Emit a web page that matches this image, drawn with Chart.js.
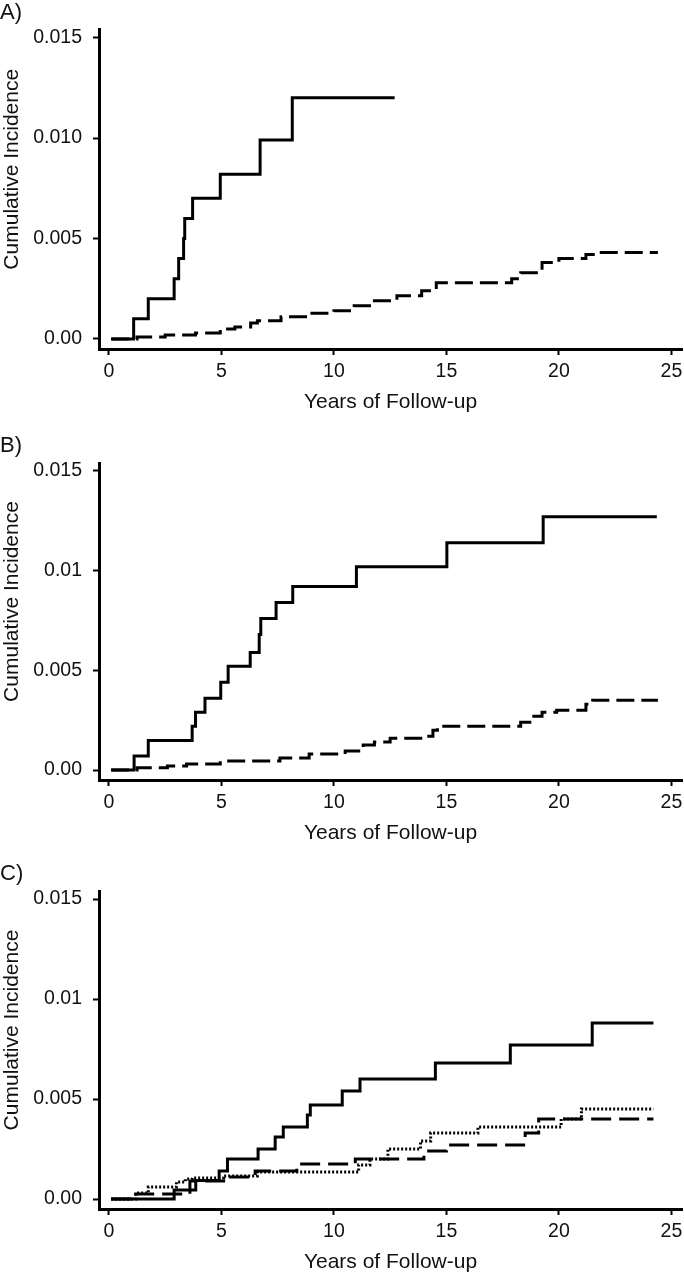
<!DOCTYPE html>
<html>
<head>
<meta charset="utf-8">
<script src="https://cdn.jsdelivr.net/npm/chart.js@4.4.1/dist/chart.umd.min.js"></script>
<style>
  body { margin: 0; background: #fff; width: 684px; height: 1280px; position: relative; overflow: hidden; }
  .panel { position: absolute; left: 0; width: 684px; height: 420px; }
</style>
</head>
<body>
<div class="panel" style="top:0"><canvas id="chartA" width="684" height="420"></canvas></div>
<div class="panel" style="top:431px"><canvas id="chartB" width="684" height="420"></canvas></div>
<div class="panel" style="top:860px"><canvas id="chartC" width="684" height="420"></canvas></div>
<script>
const xTicks = [0, 5, 10, 15, 20, 25];
const yTicks = [0, 0.005, 0.01, 0.015];
const yLabelsA = ['0.00', '0.005', '0.010', '0.015'];
const yLabelsBC = ['0.00', '0.005', '0.01', '0.015'];

// A) step times (years) and cumulative incidence
const aSolidT = [0.1, 1.1, 1.75, 2.9, 3.1, 3.32, 3.37, 3.72, 4.95, 6.72, 8.15, 12.7];
const aSolidV = [0, 0.001, 0.002, 0.003, 0.004, 0.005, 0.006, 0.007, 0.0082, 0.0099, 0.012, 0.012];
const aDashT = [0.1, 1.25, 2.5, 3.85, 4.95, 5.6, 6.3, 6.6, 7.65, 8.9, 10.0, 10.9, 11.8, 12.8, 13.9, 14.55, 17.9, 18.3, 19.25, 20.0, 21.2, 21.6, 24.4];
const aDashV = [0, 0.0001, 0.0002, 0.0003, 0.0005, 0.0006, 0.0008, 0.0009, 0.0011, 0.00128, 0.0014, 0.00165, 0.0019, 0.00215, 0.0024, 0.0028, 0.003, 0.0033, 0.0038, 0.004, 0.0042, 0.0043, 0.0043];

// B)
const bSolidT = [0.1, 1.12, 1.75, 3.7, 3.85, 4.27, 4.97, 5.3, 6.28, 6.68, 6.75, 7.43, 8.17, 11.0, 15.02, 19.3, 24.35];
const bSolidV = [0, 0.0007, 0.00148, 0.0022, 0.0029, 0.0036, 0.0044, 0.0052, 0.0059, 0.0068, 0.0076, 0.0084, 0.0092, 0.0102, 0.0114, 0.0127, 0.0127];
const bDashT = [0.1, 1.25, 2.6, 3.45, 4.95, 7.6, 8.9, 10.5, 11.3, 11.8, 12.5, 14.0, 14.4, 14.6, 18.3, 18.8, 19.25, 19.9, 21.2, 21.5, 24.4];
const bDashV = [0, 0.00012, 0.0002, 0.0003, 0.00045, 0.0006, 0.0008, 0.00095, 0.00125, 0.0014, 0.0016, 0.0017, 0.002, 0.0022, 0.0024, 0.0027, 0.0029, 0.003, 0.0033, 0.0035, 0.0035];

// C)
const cSolidT = [0.1, 2.9, 3.86, 4.9, 5.27, 6.63, 7.39, 7.75, 8.82, 8.95, 10.37, 11.16, 14.51, 17.84, 21.48, 24.2];
const cSolidV = [0, 0.00045, 0.00092, 0.0014, 0.002, 0.0025, 0.0031, 0.0036, 0.0042, 0.0047, 0.0054, 0.006, 0.0068, 0.0077, 0.0088, 0.0088];
const cDashT = [0.1, 1.1, 3.6, 5.1, 6.5, 8.35, 10.95, 14.0, 15.0, 18.5, 19.1, 24.2];
const cDashV = [0, 0.00025, 0.0009, 0.0011, 0.0014, 0.00175, 0.002, 0.0024, 0.0027, 0.0033, 0.004, 0.004];
const cDotT = [0.1, 1.2, 1.75, 3.0, 3.4, 3.7, 5.1, 6.6, 11.1, 11.6, 12.4, 13.85, 14.3, 16.4, 20.1, 21.0, 24.2];
const cDotV = [0, 0.0003, 0.0006, 0.00085, 0.001, 0.00105, 0.00115, 0.00135, 0.0017, 0.002, 0.0025, 0.0029, 0.0033, 0.0036, 0.004, 0.0045, 0.0045];

const family = '"Liberation Sans", Arial, Helvetica, sans-serif';
const ink = '#111';

const solid = [];
const dashed = [18, 7];
const dotted = [2, 2];

function steps(t, v) {
  return t.map((x, i) => ({ x, y: v[i] }));
}

function line(t, v, dash, width) {
  return {
    data: steps(t, v),
    showLine: true,
    stepped: 'before',
    borderColor: '#000',
    borderWidth: width,
    borderDash: dash,
    borderCapStyle: 'butt',
    pointRadius: 0,
  };
}

// rotated y title, sits a bit above the axis centre like the original
const yTitle = {
  id: 'yTitle',
  afterDraw(chart) {
    const { ctx, chartArea } = chart;
    ctx.save();
    ctx.translate(12, (chartArea.top + chartArea.bottom) / 2 - 20);
    ctx.rotate(-Math.PI / 2);
    ctx.font = '21px ' + family;
    ctx.fillStyle = ink;
    ctx.textAlign = 'center';
    ctx.textBaseline = 'middle';
    ctx.fillText('Cumulative Incidence', 0, 0);
    ctx.restore();
  },
};

function panel(id, label, yLabels, datasets, padTop) {
  new Chart(document.getElementById(id), {
    type: 'scatter',
    data: { datasets },
    plugins: [yTitle],
    options: {
      responsive: false,
      animation: false,
      devicePixelRatio: 1,
      layout: { padding: { top: padTop, right: 2, bottom: 0, left: 0 } },
      plugins: {
        legend: { display: false },
        tooltip: { enabled: false },
        title: {
          display: true,
          text: label,
          align: 'start',
          color: ink,
          font: { family, size: 22, weight: 'normal', lineHeight: 1 },
          padding: { top: 1.5, bottom: 6 },
        },
      },
      scales: {
        x: {
          type: 'linear',
          min: -0.44,
          max: 25.47,
          afterBuildTicks: (s) => { s.ticks = xTicks.map((v) => ({ value: v })); },
          afterFit: (s) => { s.height = 71; s.paddingLeft = 0; s.paddingRight = 0; },
          border: { color: '#000', width: 3 },
          grid: { drawOnChartArea: false, tickLength: 6, tickWidth: 2, tickColor: '#000' },
          ticks: { color: ink, font: { family, size: 19.5 }, padding: 5, maxRotation: 0 },
          title: {
            display: true,
            text: 'Years of Follow-up',
            color: ink,
            font: { family, size: 21 },
            padding: { top: 0, bottom: 5 },
          },
        },
        y: {
          min: -0.0005,
          max: 0.0154,
          afterBuildTicks: (s) => { s.ticks = yTicks.map((v) => ({ value: v })); },
          afterFit: (s) => { s.width = 99; s.paddingTop = 0; s.paddingBottom = 0; },
          border: { color: '#000', width: 3 },
          grid: { drawOnChartArea: false, tickLength: 6, tickWidth: 2, tickColor: '#000' },
          ticks: {
            color: ink,
            font: { family, size: 19.5 },
            padding: 11,
            callback: (v, i) => yLabels[i],
          },
        },
      },
    },
  });
}

panel('chartA', 'A)', yLabelsA, [
  line(aSolidT, aSolidV, solid, 3),
  line(aDashT, aDashV, dashed, 3),
], 0);

panel('chartB', 'B)', yLabelsBC, [
  line(bSolidT, bSolidV, solid, 3),
  line(bDashT, bDashV, dashed, 3),
], 2.5);

panel('chartC', 'C)', yLabelsBC, [
  line(cSolidT, cSolidV, solid, 3),
  line(cDashT, cDashV, [20, 8], 3),
  line(cDotT, cDotV, dotted, 3),
], 1.5);
</script>
</body>
</html>
